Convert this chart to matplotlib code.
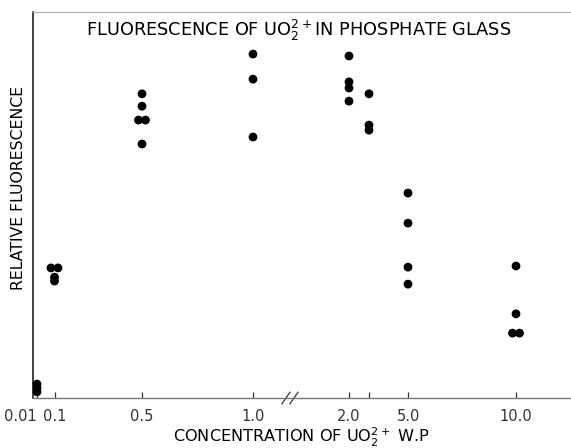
import matplotlib
matplotlib.use('Agg')
from matplotlib import pyplot
import numpy as np

matplotlib.rcParams['font.family'] = 'DejaVu Sans'
matplotlib.rcParams['mathtext.fontset'] = 'dejavusans'

# concentration (w.p.) of each measured sample, and its relative fluorescence
conc = [0.01, 0.01, 0.01,
        0.1, 0.1, 0.1, 0.1,
        0.5, 0.5, 0.5, 0.5, 0.5,
        1.0, 1.0, 1.0,
        2.0, 2.0, 2.0, 2.0,
        2.5, 2.5, 2.5,
        5.0, 5.0, 5.0, 5.0,
        10.0, 10.0, 10.0, 10.0]
fluor = [3.6, 2.6, 1.6,
         33.7, 33.7, 31.3, 30.3,
         78.8, 75.6, 72.0, 72.0, 65.8,
         89.1, 82.6, 67.6,
         88.6, 81.9, 80.3, 76.9,
         78.8, 70.7, 69.4,
         53.1, 45.3, 33.9, 29.5,
         34.2, 21.8, 16.8, 16.8]

tick_conc = [0.01, 0.1, 0.5, 1.0, 2.0, 2.5, 5.0, 10.0]
tick_labels = ['0.01', '0.1', '0.5', '1.0', '2.0', '', '5.0', '10.0']

# the original axis is hand drawn, not to scale: place each concentration
axis_pos = {0.01: 37, 0.1: 54.5, 0.5: 142, 1.0: 253, 2.0: 349, 2.5: 369,
            5.0: 408, 10.0: 516}

W, H = 571, 448
fig = pyplot.figure(figsize=(W/100, H/100), dpi=100)
ax = fig.add_axes([33/W, (H-398)/H, (W-33)/W, (398-12)/H])
ax.set_xlim(33, 571)
ax.set_ylim(0, 100)

# spread points with the same value sideways, as in the drawing
xs = []
for i, (c, f) in enumerate(zip(conc, fluor)):
    same = [j for j in range(len(conc)) if conc[j] == c and fluor[j] == f]
    off = 0.0
    if len(same) > 1:
        off = (same.index(i) - (len(same)-1)/2.) * 7
    xs.append(axis_pos[c] + off)

ax.scatter(xs, fluor, s=40, c='k', edgecolors='none', zorder=3, clip_on=False)

ax.set_xticks([axis_pos[c] for c in tick_conc])
ax.set_xticklabels(tick_labels, fontsize=10.5)
ax.tick_params(axis='x', direction='in', length=4, width=0.9, pad=8, colors='#333')
lbls = ax.get_xticklabels()
lbls[0].set_horizontalalignment('right')
lbls[0].set_x(axis_pos[0.01] + 3)
ax.set_yticks([])

ax.spines['right'].set_visible(False)
ax.spines['left'].set_color('#222')
ax.spines['left'].set_linewidth(1.2)
ax.spines['bottom'].set_color('#777')
ax.spines['bottom'].set_linewidth(1.0)
ax.spines['top'].set_color('#aaa')
ax.spines['top'].set_linewidth(0.8)

# axis break mark
for dx in (-4, 4):
    ax.plot([axis_pos[1.0] + 37 + dx - 4, axis_pos[1.0] + 37 + dx + 4], [-1.5, 1.5],
            c='#333', lw=0.9, clip_on=False)

fig.text(299/W, 1 - 36/H, r'FLUORESCENCE OF UO$_2^{2+}$IN PHOSPHATE GLASS',
         ha='center', va='baseline', fontsize=12.8)
fig.text(301/W, 1 - 442/H, r'CONCENTRATION OF UO$_2^{2+}$ W.P',
         ha='center', va='baseline', fontsize=11.6)
fig.text(19/W, 1 - 188/H, 'RELATIVE FLUORESCENCE', rotation=90,
         ha='center', va='center', fontsize=11.3)

fig.savefig('out.png', dpi=100)
